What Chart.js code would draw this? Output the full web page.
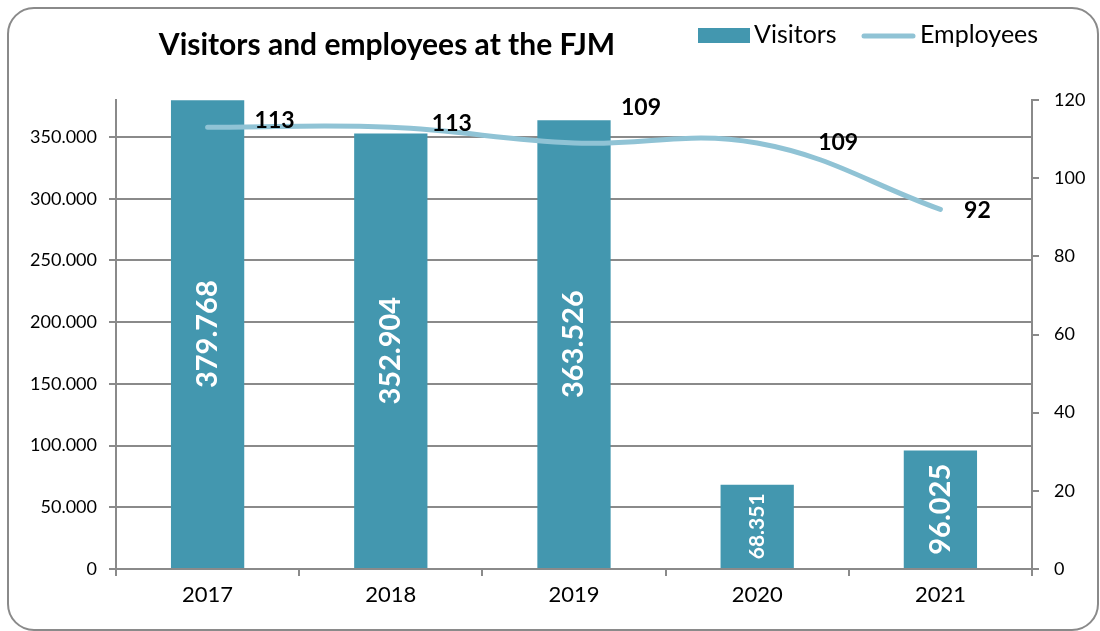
<!DOCTYPE html>
<html>
<head>
<meta charset="utf-8">
<script src="https://cdn.jsdelivr.net/npm/chart.js@4"></script>
<style>
  body { margin: 0; background: #fff; }
  #wrap { width: 1100px; height: 631px; position: relative; }
</style>
</head>
<body>
<div id="wrap"><canvas id="fjmChart"></canvas></div>
<script>
  // Data
  var years = ['2017', '2018', '2019', '2020', '2021'];
  var visitors = [379768, 352904, 363526, 68351, 96025];
  var employees = [113, 113, 109, 109, 92];
  var visitorTicks = [0, 50000, 100000, 150000, 200000, 250000, 300000, 350000];
  var visitorAxisMax = 380000;
  var employeeTicks = [0, 20, 40, 60, 80, 100, 120];

  var title = 'Visitors and employees at the FJM';
  var barColor = '#4397AF';
  var lineColor = '#90C3D5';
  var axisColor = '#8a8a8a';
  var fontName = 'Lato, "Open Sans", sans-serif';

  // 350000 -> "350.000"
  function fmt(v) {
    return String(v).replace(/\B(?=(\d{3})+(?!\d))/g, '.');
  }

  // label offsets for the employee values (they were dragged around in the original)
  var lineLabelOffsets = [[67, -7], [61, -4], [67, -35], [81, 0], [37, 1]];

  var framePlugin = {
    id: 'frame',
    beforeDraw: function (chart) {
      var c = chart.ctx;
      c.save();
      c.fillStyle = '#fff';
      c.fillRect(0, 0, chart.width, chart.height);
      c.beginPath();
      c.roundRect(8, 8, 1090, 622, 26);
      c.strokeStyle = axisColor;
      c.lineWidth = 2;
      c.stroke();
      c.restore();
    },
    afterDraw: function (chart) {
      var c = chart.ctx;
      c.save();
      // title
      c.fillStyle = '#000';
      c.font = 'bold 30px ' + fontName;
      c.textAlign = 'center';
      c.textBaseline = 'middle';
      c.fillText(title, 387, 45);
      // legend
      c.font = '25px ' + fontName;
      c.textAlign = 'left';
      c.fillStyle = barColor;
      c.fillRect(698, 28, 52, 15);
      c.fillStyle = '#000';
      c.fillText('Visitors', 754, 35);
      c.strokeStyle = lineColor;
      c.lineWidth = 5;
      c.lineCap = 'round';
      c.beginPath();
      c.moveTo(864, 36);
      c.lineTo(913, 36);
      c.stroke();
      c.fillText('Employees', 920, 35);
      c.restore();
    },
    afterDatasetsDraw: function (chart) {
      var c = chart.ctx;
      c.save();
      c.textAlign = 'center';
      c.textBaseline = 'middle';
      // bar values, rotated
      var bars = chart.getDatasetMeta(0).data;
      bars.forEach(function (bar, i) {
        var size = visitors[i] < 80000 ? 21 : 29;
        c.save();
        c.translate(bar.x, (bar.y + bar.base) / 2);
        c.rotate(-Math.PI / 2);
        c.font = 'bold ' + size + 'px ' + fontName;
        c.fillStyle = '#fff';
        c.fillText(fmt(visitors[i]), 0, 0);
        c.restore();
      });
      // line values
      var pts = chart.getDatasetMeta(1).data;
      c.font = 'bold 23px ' + fontName;
      c.fillStyle = '#000';
      pts.forEach(function (p, i) {
        var o = lineLabelOffsets[i];
        c.fillText(String(employees[i]), p.x + o[0], p.y + o[1]);
      });
      c.restore();
    }
  };

  var ctx = document.getElementById('fjmChart').getContext('2d');
  var fjmChart = new Chart(ctx, {
    data: {
      labels: years,
      datasets: [{
        type: 'bar',
        label: 'Visitors',
        data: visitors,
        backgroundColor: barColor,
        yAxisID: 'y',
        categoryPercentage: 1,
        barPercentage: 0.4,
        order: 2
      }, {
        type: 'line',
        label: 'Employees',
        data: employees,
        borderColor: lineColor,
        borderWidth: 5,
        borderCapStyle: 'round',
        tension: 0.4,
        pointRadius: 0,
        yAxisID: 'y2',
        order: 1
      }]
    },
    options: {
      responsive: true,
      maintainAspectRatio: false,
      animation: false,
      layout: { padding: { top: 100, left: 0, right: 0, bottom: 0 } },
      plugins: {
        legend: { display: false },
        title: { display: false },
        tooltip: { enabled: false }
      },
      scales: {
        x: {
          grid: { display: true, drawOnChartArea: false, color: axisColor, lineWidth: 2, tickLength: 7, offset: true },
          border: { display: true, color: axisColor, width: 2 },
          ticks: { color: '#000', font: { family: fontName, size: 22 }, padding: 6 },
          afterFit: function (s) { s.height = 62; }
        },
        y: {
          position: 'left',
          min: 0,
          max: visitorAxisMax,
          ticks: {
            color: '#000',
            font: { family: fontName, size: 18 },
            padding: 12,
            callback: function (v) { return fmt(v); }
          },
          grid: { color: axisColor, lineWidth: 2, tickLength: 7 },
          border: { color: axisColor, width: 2 },
          afterBuildTicks: function (s) {
            s.ticks = visitorTicks.map(function (v) { return { value: v }; });
          },
          afterFit: function (s) { s.width = 116; }
        },
        y2: {
          position: 'right',
          min: 0,
          max: employeeTicks[employeeTicks.length - 1],
          ticks: {
            color: '#000',
            font: { family: fontName, size: 18 },
            padding: 15
          },
          grid: { drawOnChartArea: false, color: axisColor, lineWidth: 2, tickLength: 7 },
          border: { color: axisColor, width: 2 },
          afterBuildTicks: function (s) {
            s.ticks = employeeTicks.map(function (v) { return { value: v }; });
          },
          afterFit: function (s) { s.width = 68; }
        }
      }
    },
    plugins: [framePlugin]
  });
</script>
</body>
</html>
